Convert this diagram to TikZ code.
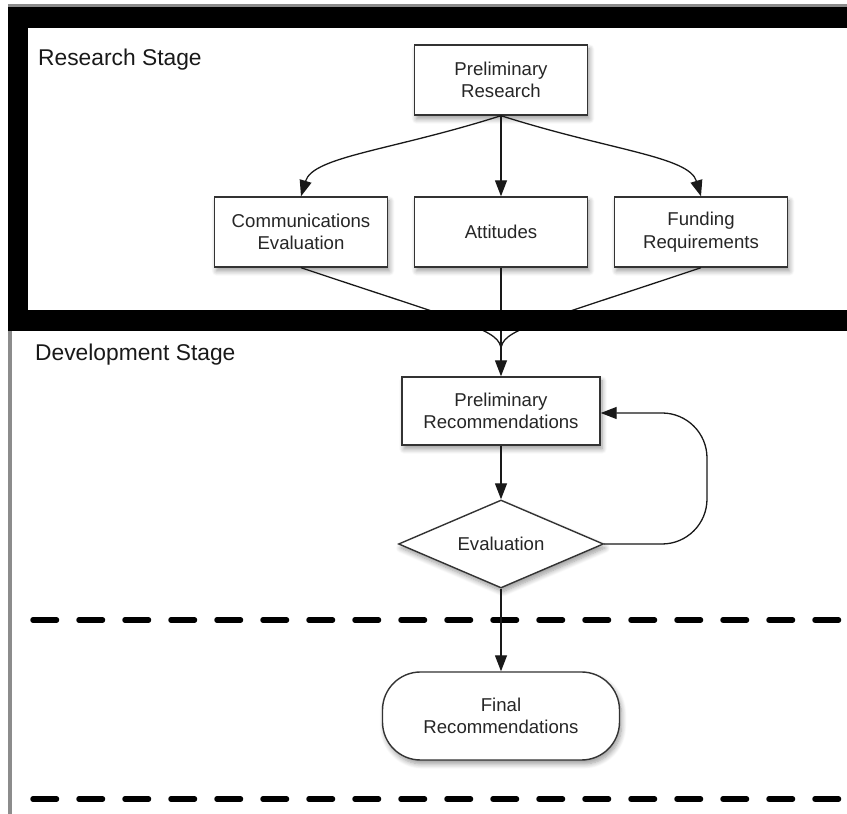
\documentclass[tikz,border=0pt]{standalone}
\usepackage{fontspec}
\setmainfont{Liberation Sans}
\usetikzlibrary{arrows.meta, shapes.geometric, shadows.blur}

\begin{document}
\begin{tikzpicture}[
    x=1pt, y=1pt,
    boxshadow/.style={blur shadow={shadow xshift=2pt, shadow yshift=-4pt, shadow blur radius=5pt, shadow blur steps=8}},
    task/.style={draw=black!80, line width=1.4pt, fill=white, rectangle, boxshadow,
        minimum width=173pt, minimum height=70pt, align=center, text=black!85,
        font=\fontsize{18.6}{22.5}\selectfont},
    decision/.style={draw=black!80, line width=1.4pt, fill=white, diamond, boxshadow,
        aspect=2.33, inner sep=0pt, minimum width=205pt, minimum height=88pt,
        text=black!85, font=\fontsize{18.6}{22.5}\selectfont},
    terminal/.style={draw=black!80, line width=1.4pt, fill=white, rectangle, boxshadow,
        rounded corners=38pt, minimum width=237pt, minimum height=88pt,
        align=center, text=black!85, font=\fontsize{18.6}{22.5}\selectfont},
    flow/.style={draw=black!90, line width=1.3pt, -{Triangle[length=16pt, width=12pt]}},
    joinline/.style={draw=black!90, line width=1.3pt},
    stage/.style={anchor=west, inner sep=0pt, text=black!90, font=\fontsize{22.8}{26}\selectfont},
    divider/.style={line width=5.5pt, line cap=round, dash pattern=on 23.5pt off 22.5pt},
    pageedge/.style={draw=black!45}
]
\useasboundingbox (0,0) rectangle (847,814);
\clip (0,0) rectangle (847,814);

% ============================================================
% PAGE EDGES (grey rules, top and left)
% ============================================================
\draw[pageedge, line width=3pt] (8,808.2) -- (847,808.2);
\draw[pageedge, line width=4pt] (10.3,808) -- (10.3,0);

% ============================================================
% RESEARCH STAGE
% Prelim box at (501,734), three boxes on row y=582
% ============================================================
\node[stage] (research) at (38,754) {Research Stage};

\node[task] (prelim) at (501,734) {Preliminary\\Research};
\node[task] (comms)  at (301,582) {Communications\\Evaluation};
\node[task] (attit)  at (501,582) {Attitudes};
\node[task] (fund)   at (701,582) {Funding\\Requirements};

\draw[flow] (prelim.south) .. controls +(-110,-35) and +(12,40) .. (comms.north);
\draw[flow] (prelim.south) -- (attit.north);
\draw[flow] (prelim.south) .. controls +(110,-35) and +(-12,40) .. (fund.north);

% ============================================================
% MERGE into Preliminary Recommendations
% lines meet at (501,464), under the frame band
% ============================================================
\coordinate (merge) at (501,464);
\draw[joinline] (comms.south) .. controls +(170,-57) and +(0,20) .. (merge);
\draw[joinline] (attit.south) -- (merge);
\draw[joinline] (fund.south) .. controls +(-170,-57) and +(0,20) .. (merge);

% ============================================================
% FRAME round the research stage (thick black band)
% ============================================================
\draw[line width=20.5pt] (18,796.4) rectangle (857,493.5);

% ============================================================
% DEVELOPMENT STAGE
% ============================================================
\node[stage] (develop) at (35,459) {Development Stage};

\node[task, minimum width=198pt, minimum height=68pt] (prerec) at (501,403)
    {Preliminary\\Recommendations};
\draw[flow] (merge) -- (prerec.north);

\node[decision] (evalu) at (501,270) {Evaluation};
\draw[flow] (prerec.south) -- (evalu.north);

% feedback loop, right of the diamond
\coordinate (loopdown) at (707,270);
\coordinate (loopup) at (707,401);
\draw[flow, rounded corners=45pt] (evalu.east) -- (loopdown) -- (loopup) -- (prerec.east |- loopup);

% ============================================================
% DIVIDERS and FINAL
% ============================================================
\draw[divider] (33,194) -- (860,194);
\draw[divider] (33,15) -- (860,15);

\node[terminal] (final) at (501,98) {Final\\Recommendations};
\draw[flow] (evalu.south) -- (final.north);

\end{tikzpicture}
\end{document}
